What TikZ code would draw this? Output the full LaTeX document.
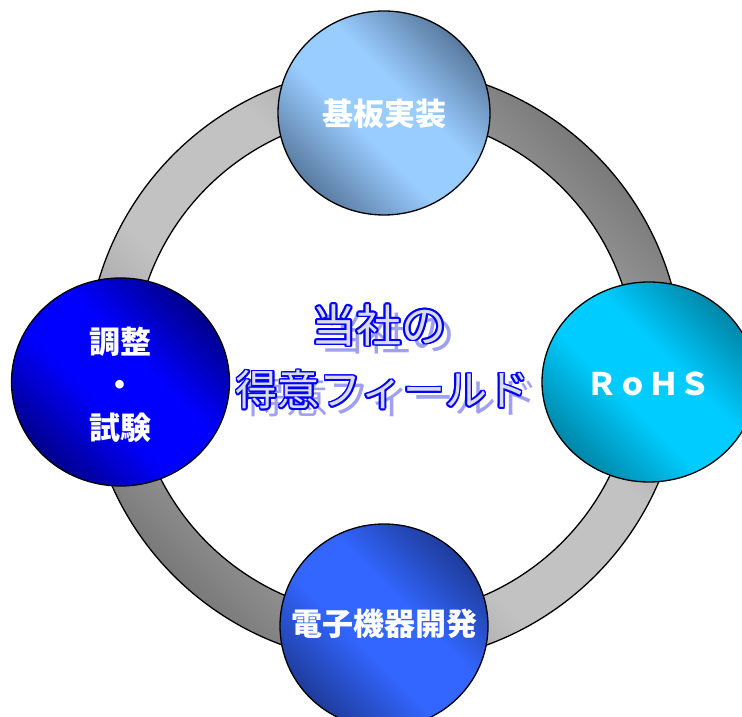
\documentclass[tikz,border=0pt]{standalone}
\usepackage{fontspec}
\newfontfamily\jp{Noto Sans CJK JP}
\usetikzlibrary{shapes.geometric}

\definecolor{ringdark}{HTML}{7A7A7A}
\definecolor{ringlight}{HTML}{C2C2C2}
\definecolor{topdark}{HTML}{5A7BA0}
\definecolor{toplight}{HTML}{99CCFF}
\definecolor{leftdark}{HTML}{00008C}
\definecolor{leftlight}{HTML}{0000FF}
\definecolor{rightdark}{HTML}{0086A8}
\definecolor{rightlight}{HTML}{00CCFF}
\definecolor{botdark}{HTML}{1E3C9C}
\definecolor{botlight}{HTML}{3366FF}
\definecolor{outblue}{HTML}{0000FF}
\definecolor{fillgray}{HTML}{DCDCE8}
\definecolor{shadowc}{HTML}{A0A0F0}

\newcommand\mkshade[3]{\pgfdeclarehorizontalshading{#1}{100bp}{color(0bp)=(#2); color(25bp)=(#2); color(43bp)=(#3); color(57bp)=(#3); color(75bp)=(#2); color(100bp)=(#2)}}
\mkshade{ringsh}{ringdark}{ringlight}
\mkshade{topsh}{topdark}{toplight}
\mkshade{leftsh}{leftdark}{leftlight}
\mkshade{rightsh}{rightdark}{rightlight}
\mkshade{botsh}{botdark}{botlight}

\tikzset{
  bubble/.style={ellipse, draw=black, line width=1.3pt, inner sep=0pt, shade, shading angle=45},
  lbl/.style={text=white, inner sep=0pt, align=center, font=\jp\bfseries\fontsize{31}{43}\selectfont},
  ctxt/.style={inner sep=0pt, font=\jp\fontsize{#1}{#1}\selectfont}
}

\begin{document}
\begin{tikzpicture}[x=1pt,y=1pt]
\useasboundingbox (0,0) rectangle (742,717);
\clip (0,0) rectangle (742,717);
\fill[white] (0,0) rectangle (742,717);

% ring
\path[draw=black, line width=1.3pt, shade, shading=ringsh, shading angle=45, even odd rule]
  (384.5,352) circle[radius=298] (384.5,352) circle[radius=251];

% circles
\node[bubble, shading=topsh, minimum width=212pt, minimum height=204pt] (top) at (384,604) {};
\node[bubble, shading=leftsh, minimum width=218pt, minimum height=208pt] (left) at (120.5,335) {};
\node[bubble, shading=rightsh, minimum width=214pt, minimum height=200pt] (right) at (649,335) {};
\node[bubble, shading=botsh, minimum width=208pt, minimum height=204pt] (bot) at (384,91) {};

% labels
\node[lbl] (ltop) at (384,603) {基板実装};
\node[lbl] (lleft) at (120,332) {調整\\・\\試験};
\node[lbl] (lright) at (648,333) {ＲｏＨＳ};
\node[lbl] (lbot) at (384.5,93) {電子機器開発};

% centre title: shadow, outline, fill
\node[ctxt=45, text=shadowc] (sh1) at (388,384) {当社の};
\node[ctxt=42, text=shadowc] (sh2) at (391.5,319) {得意フィールド};
\foreach \a in {0,30,...,330}{
  \node[ctxt=45, text=outblue, shift={(\a:1.9)}] (oa\a) at (379,392) {当社の};
  \node[ctxt=42, text=outblue, shift={(\a:1.9)}] (ob\a) at (382.5,327) {得意フィールド};
}
\node[ctxt=45, text=fillgray] (t1) at (379,392) {当社の};
\node[ctxt=42, text=fillgray] (t2) at (382.5,327) {得意フィールド};
\end{tikzpicture}
\end{document}
